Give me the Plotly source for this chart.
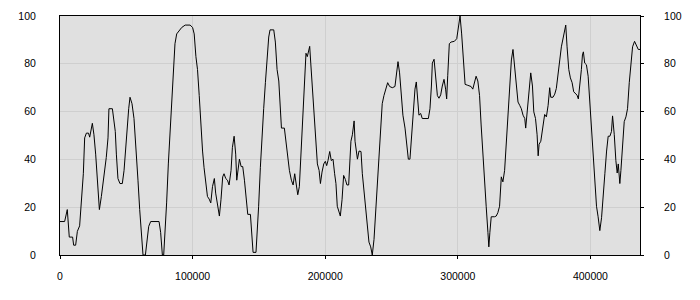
import plotly.graph_objects as go

# x positions (in thousands) and values
x_k = [0, 3.5, 5.5, 6.2, 7.0, 9.5, 10.3, 11.8, 13.1, 14.8, 16.1, 17.6, 18.6, 19.9, 21.5, 22.4, 24.4, 25.6, 26.9, 28.2,
       29.7, 31.2, 33.2, 34.9, 36.2, 36.9, 39.5, 40.7, 41.7, 42.5, 43.7, 45.2, 47.0, 48.3, 49.5, 50.8, 51.8, 52.8, 54.3, 55.8,
       57.6, 58.8, 60.1, 61.3, 62.6, 64.4, 65.9, 66.9, 68.4, 74.7,
       75.9, 77.2, 78.2, 79.2, 80.4, 81.7, 83, 84.2, 85.5, 86.7, 88, 89.8, 91.8, 94.4, 98.1, 100, 101.2, 102.5, 103.7, 105,
       106.2, 107.5, 108.6, 110, 111.2, 112.5, 113.7, 115, 116.4, 117.4, 118.7, 120.2, 121.4, 122.7, 123.7, 125, 126.3, 127.5, 129, 130,
       131.3, 132.5, 133.3, 134, 135.3, 136.6, 137.8, 139.1, 140.3, 141.6, 143.6, 144.5, 145.6, 147.8,
       148.6, 149.8, 151.1, 152.3, 153.6, 154.9, 156.1, 157.4, 158.4, 161.2, 162.4, 163.7, 165, 166.2, 167, 169.2, 170.4, 171.7, 173, 174.5,
       175.8, 177, 177.8, 179.3, 180.5, 181.8, 183, 184.3, 185.5, 186.5, 187.5, 188.3, 189.1, 190.3, 191.6, 192.8, 194.1, 195.4, 196.4, 197.6,
       198.9, 200.1, 201.1, 202.1, 203.4, 204.6, 205.9, 207.1, 208.1, 209.1, 210.4, 211.4, 212.7, 213.9, 215.2, 216.4, 217.7, 218.4,
       219.4, 220.5, 221.8, 222.5, 223.5, 224.3, 225.5, 227, 228, 229.3, 230.5, 231.8, 233, 234.3, 235.5, 236.8, 238, 239.3, 240.5, 241.8,
       243, 244.3, 245.6, 247.1, 248.6, 250.6, 252.6, 253.9, 254.9, 256.1, 257.4, 258.6, 260.2, 261.4, 262.7, 263.9, 265.2, 266.4, 267.7, 268.7,
       270, 270.7, 272, 273.2, 277.8, 279, 280.1, 280.8, 282.1, 283.3, 284.6, 285.8, 287.1, 288.3, 289.6, 290.8, 291.6, 292.4, 293.6,
       294.9, 297.4, 299.2, 300.4, 301.7, 302.9, 304.2, 305.5, 307.5, 310, 311.3, 312.6, 313.8, 315.1, 316.4, 317.6, 318.9, 320.2, 321.4, 322.7,
       323.4, 324.2, 325.2, 327.7, 329, 330.2, 331.5, 332.8, 334, 335.3, 336.6, 337.8, 339.1, 340.4, 341.6, 342.9, 344.1, 345.4, 346.7, 347.9,
       349.2, 350.5, 351.2, 352.5, 353.7, 355, 356.3, 357.3, 358.6, 359.8, 360.6, 361.3, 362.6, 363.8, 365.5, 366.8, 368.1, 369.3, 370.1, 371.8,
       373.1, 374.3, 375.6, 376.9, 378.1, 379.4, 380.6, 381.4, 382.4, 383.7, 384.9, 386.2, 387.4, 388.7, 389.9, 390.9, 392, 393.2, 394, 394.7,
       395.7, 397, 398.3, 399.5, 400.8, 402.1, 403.3, 404.6, 405.8, 407.1, 408.4, 409.6, 410.9, 412.2, 413.4, 414.7, 415.9, 416.7, 418, 419.2,
       420.2, 421, 422.2, 423, 424.3, 425.5, 426.8, 428, 429.3, 430.6, 431.8, 433.3, 434.8, 436.1, 437.4]

values = [14, 14, 19, 15, 7.5, 7.5, 4.1, 4.1, 9.9, 12.2, 21.8, 34, 49, 51, 51, 49.3, 55.1, 50.3, 42.2, 29.9,
          19, 24.5, 32.7, 40.8, 49, 61.2, 61.2, 54.4, 51.7, 42.2, 32, 29.9, 29.9, 35.4, 44.9, 55.8, 61.2, 66, 63.3, 57.1,
          43.5, 31.3, 19, 9.5, 0, 0, 6.5, 12, 14, 14,
          9.5, 0, 0, 8.2, 21.8, 38.1, 51.7, 66.7, 78.9, 88.4, 92.5, 93.6, 95.2, 96.2, 96.2, 95.2, 92.5, 83, 77.6, 66.7,
          53.1, 43.5, 36.7, 31.3, 24.5, 23.4, 21.8, 28.6, 32, 25.9, 20.4, 16.3, 23.1, 32.7, 34, 32, 31.3, 29.3, 35.4, 44.9,
          49.7, 42.2, 31.3, 35.4, 40.1, 37, 37, 31.3, 24.5, 17, 17, 9.5, 1.1, 1.1,
          8.2, 20.4, 36.7, 50.3, 61.2, 72.1, 83, 91.2, 94.2, 94.2, 89.1, 77.6, 72.8, 62.6, 53.1, 53.1, 47.6, 39.5, 35.4, 31.3,
          29.3, 34, 30.6, 25.2, 28.6, 43.5, 58.5, 72.1, 84.4, 83, 85, 87.3, 80.3, 69.4, 58.5, 47.6, 38.1, 35.4, 29.9, 34.7,
          38.1, 39.2, 37.4, 39.5, 43.3, 39.5, 40.1, 34, 29.9, 20.4, 18.4, 16.3, 23.1, 33.3, 31.6, 29.3, 29.3, 38.1,
          47.6, 50.3, 56.1, 47.6, 43.5, 40.1, 43.5, 43.3, 34, 25.9, 20.4, 13.6, 5.4, 3.4, 0, 6.5, 17, 27.2, 39.5, 50.3,
          63.3, 66.7, 69.4, 72.1, 70.5, 70, 70.5, 77.6, 80.9, 76.2, 66.7, 58.5, 53.1, 47.6, 40.1, 40.1, 50.3, 61.2, 69.4, 72.4,
          64, 58.5, 59.2, 57.1, 57.1, 61.2, 70.7, 80.3, 81.9, 74.8, 66.7, 65.6, 67, 70.7, 73.5, 69.4, 65.3, 75, 88.4,
          89.1, 89.4, 90.5, 95.9, 100, 92.5, 80.9, 71.4, 71, 70.5, 69.4, 72.1, 74.8, 72.8, 66.7, 54.4, 40.8, 29.9, 20.4, 9.5,
          3.4, 9.5, 16, 16, 16.3, 17.7, 20.4, 32.7, 30.6, 35.4, 47.6, 61.2, 72.1, 81.6, 86, 77.6, 69.4, 64, 62.6, 61.2,
          58.5, 57.1, 53.1, 61.2, 69.4, 76.2, 70.7, 59.9, 57.1, 50.3, 41.5, 46.3, 47.6, 51.7, 58.8, 57.8, 62.6, 70, 66, 66,
          67.3, 69.7, 74.8, 81.6, 87.1, 91.2, 93.9, 96.2, 87.1, 77.6, 74.1, 72.1, 68.3, 67.3, 66.9, 65.3, 70.7, 77.6, 83.7, 85,
          80.3, 79.6, 74.8, 64, 51.7, 40.8, 31.3, 20.4, 16, 10.2, 15.6, 23.1, 34, 43.5, 49.7, 49.7, 51.7, 58.2, 50.3, 39.5,
          34.3, 38.1, 29.9, 35.4, 44.9, 55.8, 57.8, 61.2, 72.1, 78.9, 87.1, 89.4, 87.8, 86, 86]

x_vals = [v * 1000 for v in x_k]
x_ticks = [0, 100000, 200000, 300000, 400000]
y_ticks = [0, 20, 40, 60, 80, 100]

FONT = dict(family="Liberation Sans, Arial, sans-serif", size=10.5, color="#000000")
GRID = "#cfcfcf"

fig = go.Figure()
fig.add_trace(go.Scatter(x=x_vals, y=values, mode="lines",
                         line=dict(color="#000000", width=1), hoverinfo="skip", showlegend=False))
fig.add_trace(go.Scatter(x=x_vals, y=values, mode="lines", yaxis="y2",
                         line=dict(color="rgba(0,0,0,0)", width=0), hoverinfo="skip", showlegend=False))

fig.update_layout(
    width=700, height=300,
    margin=dict(l=60, r=60, t=10, b=45),
    paper_bgcolor="#ffffff",
    plot_bgcolor="#e0e0e0",
    font=FONT,
    showlegend=False,
    xaxis=dict(range=[0, 437400], tickvals=x_ticks, tickformat="d",
               showgrid=True, gridcolor=GRID, gridwidth=1, zeroline=False,
               showline=True, linecolor="#000000", linewidth=1, mirror=True,
               ticks="outside", ticklen=3, tickcolor="#000000",
               ticklabelstandoff=8, tickfont=FONT),
    yaxis=dict(range=[0, 100], tickvals=y_ticks, showgrid=True, gridcolor=GRID, gridwidth=1,
               zeroline=False, showline=True, linecolor="#000000", linewidth=1,
               ticks="", ticklabelstandoff=21, tickfont=FONT),
    yaxis2=dict(range=[0, 100], tickvals=y_ticks, overlaying="y", side="right",
                showgrid=False, zeroline=False, showline=True, linecolor="#000000", linewidth=1,
                ticks="outside", ticklen=3, tickcolor="#000000", ticklabelstandoff=18, tickfont=FONT),
)

fig.write_html("out.html")
